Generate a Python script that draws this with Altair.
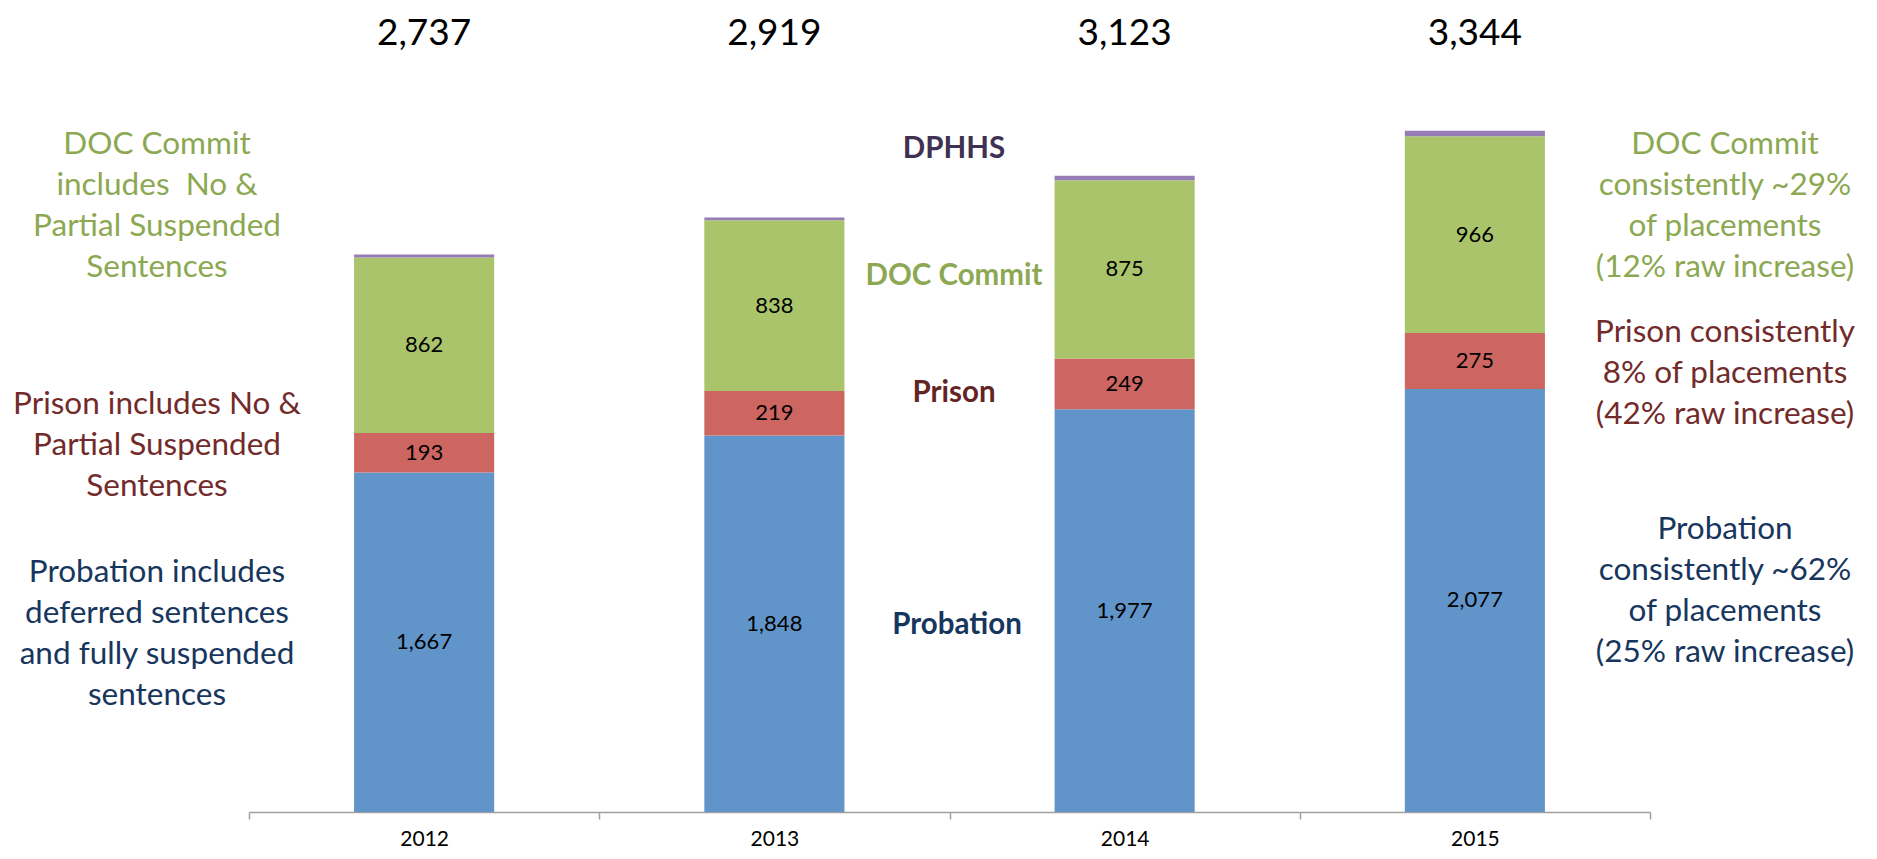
import altair as alt
import pandas as pd

# ---- data ----
years = ["2012", "2013", "2014", "2015"]
probation = [1667, 1848, 1977, 2077]
prison = [193, 219, 249, 275]
doc_commit = [862, 838, 875, 966]
dphhs = [15, 14, 22, 26]
totals = [2737, 2919, 3123, 3344]
categories = ["Probation", "Prison", "DOC Commit", "DPHHS"]
bar_colors = ["#6195C9", "#CD6660", "#AAC46C", "#977DB5"]

FONT = "Lato"
GREEN = "#8CA852"
RED = "#722B2A"
NAVY = "#17365D"
PURPLE = "#3F3151"

rows = []
for i, yr in enumerate(years):
    base = 0
    for cat, vals in zip(categories, [probation, prison, doc_commit, dphhs]):
        v = vals[i]
        rows.append({"year": yr, "category": cat, "value": v,
                     "y0": base, "y1": base + v, "mid": base + v / 2})
        base += v
seg = pd.DataFrame(rows)
tot = pd.DataFrame({"year": years, "total": totals})

x_enc = alt.X(
    "year:N",
    scale=alt.Scale(paddingInner=0, paddingOuter=0),
    axis=alt.Axis(
        title=None, labelAngle=0, tickBand="extent", grid=False,
        domainColor="#A0A0A0", domainWidth=1.5, tickColor="#A0A0A0",
        tickWidth=1.5, tickSize=7, labelPadding=9, labelFont=FONT,
        labelFontSize=21, labelColor="#000000",
    ),
)
y_scale = alt.Scale(domain=[0, 3947], nice=False, zero=True)

bars = alt.Chart(seg).mark_bar(width=alt.RelativeBandSize(0.4)).encode(
    x=x_enc,
    y=alt.Y("y1:Q", scale=y_scale, axis=None),
    y2="y0:Q",
    color=alt.Color("category:N",
                    scale=alt.Scale(domain=categories, range=bar_colors),
                    legend=None),
)

seg_labels = alt.Chart(seg).transform_filter(
    alt.datum.category != "DPHHS"
).mark_text(font=FONT, fontSize=22, color="#000000", baseline="middle",
            align="center").encode(
    x=x_enc,
    y=alt.Y("mid:Q", scale=y_scale, axis=None),
    text=alt.Text("value:Q", format=","),
)

total_labels = alt.Chart(tot).mark_text(
    font=FONT, fontSize=37, color="#000000", baseline="alphabetic",
    align="center").encode(
    x=x_enc,
    y=alt.value(37),
    text=alt.Text("total:Q", format=","),
)


def note(lines, x, y, color, size=31.5, weight="normal"):
    return alt.Chart(alt.Data(values=[{}])).mark_text(
        text=lines, align="center", baseline="alphabetic", font=FONT,
        fontSize=size, fontWeight=weight, color=color, lineHeight=41,
    ).encode(x=alt.value(x), y=alt.value(y))


notes = [
    note(["DOC Commit", "includes\u00a0 No &", "Partial Suspended", "Sentences"],
         -92, 146, GREEN),
    note(["Prison includes No &", "Partial Suspended", "Sentences"],
         -92, 406, RED),
    note(["Probation includes", "deferred sentences", "and fully suspended",
          "sentences"], -92, 574, NAVY),
    note("DPHHS", 705, 150, PURPLE, size=29.5, weight="bold"),
    note("DOC Commit", 705, 277, GREEN, size=29.5, weight="bold"),
    note("Prison", 705, 394, "#632523", size=29.5, weight="bold"),
    note("Probation", 708, 626, NAVY, size=29.5, weight="bold"),
    note(["DOC Commit", "consistently ~29%", "of placements",
          "(12% raw increase)"], 1476, 146, GREEN),
    note(["Prison consistently", "8% of placements", "(42% raw increase)"],
         1476, 334, RED),
    note(["Probation", "consistently ~62%", "of placements",
          "(25% raw increase)"], 1476, 531, NAVY),
]

chart = alt.layer(bars, seg_labels, total_labels, *notes).properties(
    width=1401,
    height=804,
    autosize=alt.AutoSizeParams(type="none"),
    padding={"left": 241, "right": 205, "top": 0, "bottom": 42},
    background="#FFFFFF",
).configure_view(strokeWidth=0)

chart.save("out.html", embed_options={"renderer": "svg", "actions": False})
